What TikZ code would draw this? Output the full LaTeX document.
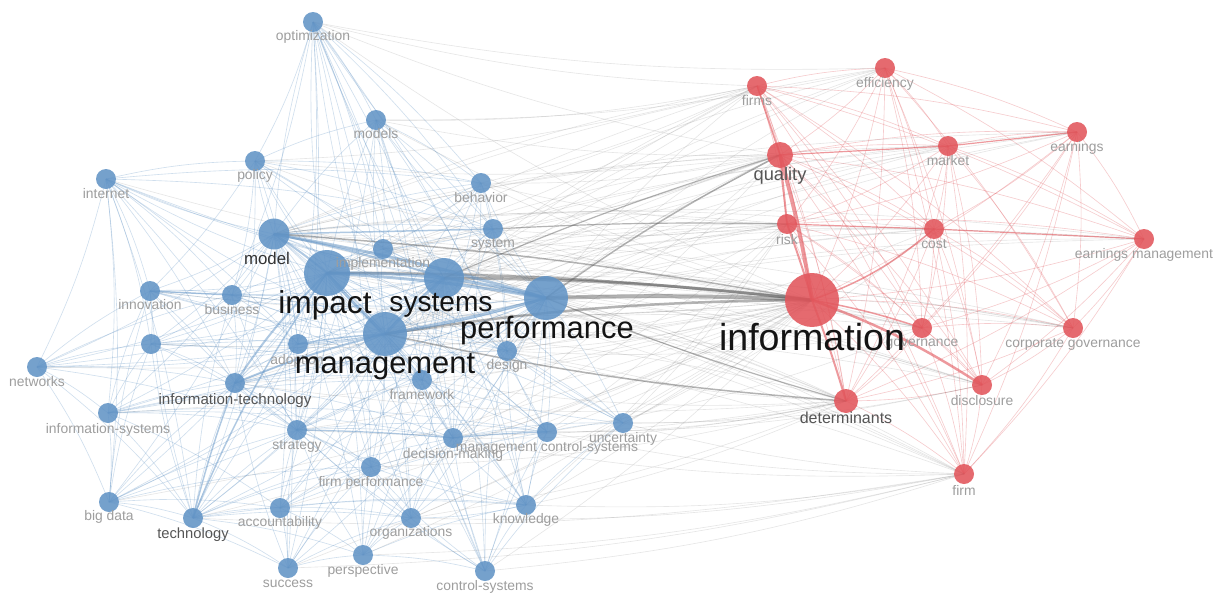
\documentclass[tikz,border=0pt]{standalone}
\usepackage{fontspec}
\setmainfont{Liberation Sans}
\usetikzlibrary{backgrounds}
\definecolor{kwblue}{RGB}{98,148,198}
\definecolor{kwred}{RGB}{226,86,92}
\definecolor{lblgray}{RGB}{158,158,158}
\definecolor{lbldark}{RGB}{85,85,85}
\tikzset{
  % keyword circles (size = radius in px)
  kw/.style={circle, inner sep=0pt, outer sep=0pt, minimum size=#1*0.04cm},
  bkw/.style={kw=#1, fill=kwblue, fill opacity=0.88},
  bkw/.default=10,
  rkw/.style={kw=#1, fill=kwred, fill opacity=0.88},
  rkw/.default=10,
  % labels
  lbl/.style={font=\fontsize{7.9}{9}\selectfont, text=lblgray, inner sep=0pt},
  lblmid/.style={font=\fontsize{#1}{#1}\selectfont, text=lbldark, inner sep=0pt},
  lblbig/.style={font=\fontsize{#1}{#1}\selectfont, text=black!92, inner sep=0pt},
  % links
  bl/.style={kwblue, opacity=0.3, line width=0.35pt},
  rl/.style={kwred, opacity=0.3, line width=0.35pt},
  gl/.style={black!60, opacity=0.16, line width=0.35pt},
  blt/.style={kwblue, opacity=0.5, line width=#1*0.567pt},
  rlt/.style={kwred, opacity=0.6, line width=#1*0.567pt},
  glt/.style={black!65, opacity=0.45, line width=#1*0.567pt},
}
\begin{document}
\begin{tikzpicture}[x=0.02cm, y=-0.02cm]
  \useasboundingbox (0,0) rectangle (1221,596);

  % blue cluster
  \node[bkw] (optimization) at (313,22) {};
  \node[bkw] (models) at (376,120) {};
  \node[bkw] (policy) at (255,161) {};
  \node[bkw] (internet) at (106,179) {};
  \node[bkw] (behavior) at (481,183) {};
  \node[bkw] (system) at (493,229) {};
  \node[bkw=15.5] (model) at (274,234) {};
  \node[bkw] (implement) at (383,249) {};
  \node[bkw=23] (impact) at (327,273) {};
  \node[bkw=20] (systems) at (444,278) {};
  \node[bkw=22] (performance) at (546,298) {};
  \node[bkw] (innovation) at (150,291) {};
  \node[bkw] (business) at (232,295) {};
  \node[bkw=22] (management) at (385,334) {};
  \node[bkw] (unlabeled) at (151,344) {};
  \node[bkw] (adoption) at (298,344) {};
  \node[bkw] (networks) at (37,367) {};
  \node[bkw] (design) at (507,351) {};
  \node[bkw] (infotech) at (235,383) {};
  \node[bkw] (framework) at (422,380) {};
  \node[bkw] (infosys) at (108,413) {};
  \node[bkw] (strategy) at (297,430) {};
  \node[bkw] (decision) at (453,438) {};
  \node[bkw] (mcs) at (547,432) {};
  \node[bkw] (uncertainty) at (623,423) {};
  \node[bkw] (firmperf) at (371,467) {};
  \node[bkw] (bigdata) at (109,502) {};
  \node[bkw] (technology) at (193,518) {};
  \node[bkw] (accountab) at (280,508) {};
  \node[bkw] (organiz) at (411,518) {};
  \node[bkw] (knowledge) at (526,505) {};
  \node[bkw] (success) at (288,568) {};
  \node[bkw] (perspective) at (363,555) {};
  \node[bkw] (controlsys) at (485,571) {};

  % red cluster
  \node[rkw] (firms) at (757,86) {};
  \node[rkw] (efficiency) at (885,68) {};
  \node[rkw=13] (quality) at (780,155) {};
  \node[rkw] (market) at (948,146) {};
  \node[rkw] (earnings) at (1077,132) {};
  \node[rkw] (risk) at (787,224) {};
  \node[rkw] (cost) at (934,229) {};
  \node[rkw] (earnmgmt) at (1144,239) {};
  \node[rkw=27] (information) at (812,300) {};
  \node[rkw] (governance) at (922,328) {};
  \node[rkw] (corpgov) at (1073,328) {};
  \node[rkw] (disclosure) at (982,385) {};
  \node[rkw=12] (determinants) at (846,401) {};
  \node[rkw] (firm) at (964,474) {};

  \begin{pgfonlayer}{background}
    \fill[white] (0,0) rectangle (1221,596);

    % blue links: hubs to the rest of the cluster
    \foreach \h in {impact,systems,performance,management,model}
      \foreach \b in {optimization,models,policy,internet,behavior,system,implement,
                      innovation,business,unlabeled,adoption,networks,design,infotech,
                      framework,infosys,strategy,decision,mcs,uncertainty,firmperf,
                      bigdata,technology,accountab,organiz,knowledge,success,
                      perspective,controlsys}
        \draw[bl] (\h.center) to[bend left=6] (\b.center);

    % blue links between small keywords
    \foreach \a/\bs in {
        optimization/{models,policy,behavior,system,implement,business,adoption,design,framework,strategy,decision,firmperf,knowledge,organiz},
        internet/{policy,innovation,business,unlabeled,networks,infotech,infosys,bigdata,technology,adoption,strategy,system,behavior},
        networks/{innovation,unlabeled,infotech,infosys,bigdata,technology,business,strategy},
        infosys/{innovation,unlabeled,infotech,bigdata,technology,strategy,accountab,decision,mcs,framework},
        bigdata/{infotech,technology,accountab,strategy,success,innovation,unlabeled,firmperf},
        technology/{infotech,accountab,strategy,success,perspective,organiz,firmperf,unlabeled,innovation,business,adoption,knowledge,decision},
        accountab/{strategy,success,perspective,organiz,knowledge,firmperf,mcs},
        success/{perspective,strategy,firmperf,organiz,infotech},
        perspective/{organiz,firmperf,knowledge,strategy,controlsys,decision},
        controlsys/{knowledge,mcs,organiz,decision,framework,strategy,design,uncertainty,firmperf},
        knowledge/{mcs,organiz,decision,uncertainty,firmperf,strategy,design},
        organiz/{firmperf,decision,strategy,mcs},
        strategy/{decision,mcs,firmperf,infotech,adoption,framework,business,innovation},
        decision/{mcs,uncertainty,framework,firmperf,design},
        mcs/{uncertainty,design,framework},
        uncertainty/{design,framework},
        policy/{models,business,implement,innovation,infotech,adoption,system,behavior},
        models/{behavior,system,implement,design,decision,framework,strategy},
        behavior/{system,implement,design,framework,decision},
        system/{implement,design,framework},
        innovation/{business,unlabeled,infotech,adoption,framework},
        business/{unlabeled,infotech,adoption,framework,design,implement},
        unlabeled/{infotech,adoption,framework,strategy},
        infotech/{adoption,framework,design,decision,firmperf,organiz}}
      \foreach \b in \bs
        \draw[bl] (\a.center) to[bend left=6] (\b.center);

    % red links
    \foreach \a/\bs in {
        firms/{efficiency,quality,market,earnings,risk,cost,earnmgmt,information,governance,corpgov,disclosure,determinants,firm},
        efficiency/{quality,market,earnings,risk,cost,earnmgmt,information,governance,corpgov,disclosure,determinants,firm},
        quality/{market,earnings,cost,earnmgmt,governance,corpgov,disclosure,determinants,firm},
        market/{earnings,risk,cost,earnmgmt,information,governance,corpgov,disclosure,determinants,firm},
        earnings/{risk,cost,earnmgmt,information,governance,corpgov,disclosure,determinants,firm},
        risk/{earnmgmt,governance,corpgov,disclosure,determinants,firm},
        cost/{governance,corpgov,disclosure,determinants,firm},
        earnmgmt/{information,governance,corpgov,disclosure,determinants,firm},
        information/{corpgov,firm},
        governance/{corpgov,disclosure,determinants,firm},
        corpgov/{disclosure,determinants,firm},
        disclosure/{determinants,firm},
        determinants/{firm}}
      \foreach \b in \bs
        \draw[rl] (\a.center) to[bend left=6] (\b.center);

    % grey links between the clusters
    \foreach \b in {optimization,models,policy,internet,behavior,system,implement,
                    innovation,business,unlabeled,adoption,networks,design,infotech,
                    framework,infosys,strategy,decision,mcs,uncertainty,firmperf,
                    bigdata,technology,accountab,organiz,knowledge,success,
                    perspective,controlsys}
      \draw[gl] (information.center) to[bend left=6] (\b.center);
    \foreach \h in {impact,systems,performance,management,model}
      \foreach \r in {firms,efficiency,quality,market,earnings,risk,cost,earnmgmt,
                      governance,corpgov,disclosure,determinants,firm}
        \draw[gl] (\h.center) to[bend left=6] (\r.center);
    \foreach \r/\bs in {
        quality/{models,policy,behavior,system,implement,design,decision,infotech,optimization},
        risk/{system,behavior,design,decision,uncertainty,mcs,knowledge,implement},
        determinants/{design,framework,decision,mcs,uncertainty,knowledge,strategy,infotech,firmperf,organiz},
        firm/{knowledge,controlsys,organiz,mcs,uncertainty,perspective,technology,decision,success},
        firms/{optimization,models,policy,behavior,system,implement},
        efficiency/{optimization,models},
        cost/{design,uncertainty},
        disclosure/{mcs,uncertainty},
        governance/{mcs,design}}
      \foreach \b in \bs
        \draw[gl] (\r.center) to[bend left=6] (\b.center);

    % strong links
    \draw[glt=4] (performance.center) to[bend left=2] (information.center);
    \draw[glt=3] (systems.center) to[bend left=3] (information.center);
    \draw[glt=2.5] (impact.center) to[bend left=3] (information.center);
    \draw[glt=2.5] (management.center) to[bend left=4] (information.center);
    \draw[glt=1.5] (model.center) to[bend left=3] (information.center);
    \draw[glt=1.5] (performance.center) to[bend left=4] (quality.center);
    \draw[glt=1.2] (systems.center) to[bend left=3] (quality.center);
    \draw[glt=1.2] (system.center) to[bend left=2] (risk.center);
    \draw[glt=1.5] (management.center) to[bend right=4] (determinants.center);
    \draw[glt=1.2] (performance.center) to[bend right=3] (determinants.center);
    \draw[blt=3] (model.center) to[bend left=3] (performance.center);
    \draw[blt=2] (model.center) to[bend left=3] (systems.center);
    \draw[blt=2] (model.center) to[bend left=3] (impact.center);
    \draw[blt=1.5] (model.center) -- (system.center);
    \draw[blt=3] (impact.center) to[bend left=3] (systems.center);
    \draw[blt=3] (impact.center) to[bend left=3] (performance.center);
    \draw[blt=3] (systems.center) to[bend left=3] (performance.center);
    \draw[blt=3] (management.center) to[bend right=3] (performance.center);
    \draw[blt=3] (management.center) to[bend left=3] (systems.center);
    \draw[blt=3] (management.center) to[bend left=3] (impact.center);
    \draw[blt=2] (infotech.center) to[bend left=6] (impact.center);
    \draw[blt=2] (infotech.center) to[bend left=4] (management.center);
    \draw[blt=1.5] (technology.center) to[bend left=6] (impact.center);
    \draw[blt=1.5] (technology.center) to[bend left=3] (infotech.center);
    \draw[blt=1.5] (innovation.center) -- (business.center);
    \draw[blt=1.5] (adoption.center) to[bend left=3] (management.center);
    \draw[blt=1.2] (strategy.center) to[bend left=2] (decision.center);
    \draw[blt=1.2] (decision.center) to[bend left=2] (mcs.center);
    \draw[rlt=4] (quality.center) to[bend left=3] (information.center);
    \draw[rlt=2] (quality.center) -- (risk.center);
    \draw[rlt=2] (risk.center) to[bend left=2] (information.center);
    \draw[rlt=1.5] (firms.center) -- (quality.center);
    \draw[rlt=2.5] (information.center) to[bend left=6] (disclosure.center);
    \draw[rlt=2] (information.center) to[bend left=2] (determinants.center);
    \draw[rlt=1.5] (information.center) to[bend right=10] (cost.center);
    \draw[rlt=1.5] (information.center) to[bend left=4] (governance.center);
    \draw[rlt=1.2] (quality.center) -- (market.center);
    \draw[rlt=1.2] (market.center) -- (earnings.center);
    \draw[rlt=1.2] (risk.center) -- (cost.center);
    \draw[rlt=1.2] (cost.center) -- (earnmgmt.center);
  \end{pgfonlayer}

  % labels, blue cluster
  \node[lbl] (l-optim) at (313,37) {optimization};
  \node[lbl] (l-models) at (376,134) {models};
  \node[lbl] (l-policy) at (255,176) {policy};
  \node[lbl] (l-internet) at (106,194) {internet};
  \node[lbl] (l-behavior) at (481,198) {behavior};
  \node[lbl] (l-system) at (493,244) {system};
  \node[lbl] (l-implement) at (383,264) {implementation};
  \node[lbl] (l-innovation) at (150,305) {innovation};
  \node[lbl] (l-business) at (232,310) {business};
  \node[lbl] (l-adoption) at (297,361) {adoption};
  \node[lbl] (l-networks) at (37,382) {networks};
  \node[lbl] (l-design) at (507,366) {design};
  \node[lbl] (l-framework) at (422,395) {framework};
  \node[lbl] (l-infosys) at (108,430) {information-systems};
  \node[lbl] (l-strategy) at (297,446) {strategy};
  \node[lbl] (l-decision) at (453,455) {decision-making};
  \node[lbl] (l-mcs) at (547,448) {management control-systems};
  \node[lbl] (l-uncertainty) at (623,439) {uncertainty};
  \node[lbl] (l-firmperf) at (371,483) {firm performance};
  \node[lbl] (l-bigdata) at (109,517) {big data};
  \node[lbl] (l-accountab) at (280,523) {accountability};
  \node[lbl] (l-organiz) at (411,533) {organizations};
  \node[lbl] (l-knowledge) at (526,520) {knowledge};
  \node[lbl] (l-success) at (288,584) {success};
  \node[lbl] (l-perspective) at (363,571) {perspective};
  \node[lbl] (l-controlsys) at (485,587) {control-systems};
  \node[lblmid=8.6] (l-infotech) at (235,401) {information-technology};
  \node[lblmid=8.4] (l-technology) at (193,535) {technology};
  \node[lblbig=9.6, text=black!80] (l-model) at (267,258) {model};
  \node[lblbig=18] (l-impact) at (325,305) {impact};
  \node[lblbig=16] (l-systems) at (441,305) {systems};
  \node[lblbig=17.6] (l-performance) at (547,331) {performance};
  \node[lblbig=17.6] (l-management) at (385,367) {management};

  % labels, red cluster
  \node[lbl] (l-firms) at (757,101) {firms};
  \node[lbl] (l-efficiency) at (885,84) {efficiency};
  \node[lbl] (l-market) at (948,161) {market};
  \node[lbl] (l-earnings) at (1077,148) {earnings};
  \node[lbl] (l-risk) at (787,240) {risk};
  \node[lbl] (l-cost) at (934,244) {cost};
  \node[lbl] (l-earnmgmt) at (1144,255) {earnings management};
  \node[lbl] (l-governance) at (922,344) {governance};
  \node[lbl] (l-corpgov) at (1073,344) {corporate governance};
  \node[lbl] (l-disclosure) at (982,401) {disclosure};
  \node[lbl] (l-firm) at (964,490) {firm};
  \node[lblmid=10.4] (l-quality) at (780,176) {quality};
  \node[lblmid=9.1] (l-determinants) at (846,418) {determinants};
  \node[lblbig=21.4] (l-information) at (812,337) {information};
\end{tikzpicture}
\end{document}
